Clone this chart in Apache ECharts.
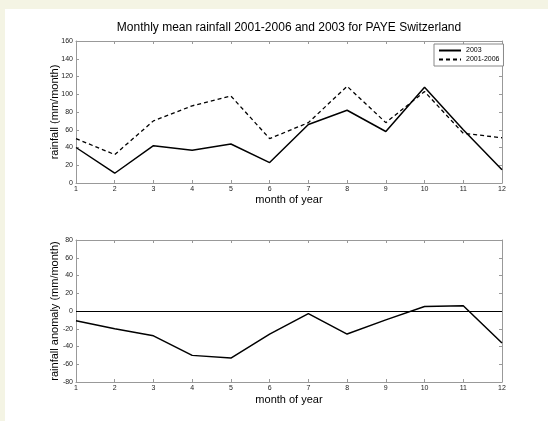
<!DOCTYPE html>
<html><head><meta charset="utf-8">
<script src="https://cdn.jsdelivr.net/npm/echarts@6/dist/echarts.min.js"></script>
<style>
html,body{margin:0;padding:0;background:#f4f4e4;width:548px;height:421px;overflow:hidden;}
#c{position:absolute;left:5px;top:9px;width:543px;height:412px;background:#fff;}
</style></head>
<body><div id="c"></div>
<script>
const months = [1,2,3,4,5,6,7,8,9,10,11,12];
const rain2003 = [40,11,42,37,44,23,66,82,58,108,60,15];
const rainMean = [50,32,70,87,98,50,68,109,68,103,56,51];
const anomaly = [-11,-20,-28,-50,-53,-26,-3,-26,-10,5,6,-36];

const OX = 5, OY = 9;
const axisCol = '#999';
const font = 'Liberation Sans, Arial, sans-serif';
function pairs(xs, ys){ return xs.map((x,i)=>[x, ys[i]]); }

function xAx(gi, show){
  return {
    type:'value', gridIndex:gi, min:1, max:12, interval:1,
    position: show ? 'bottom' : 'top',
    name: show ? 'month of year' : '', nameLocation:'middle', nameGap: gi===0 ? 11 : 12,
    nameMoveOverlap:false,
    nameTextStyle:{fontFamily:font, fontSize:11, color:'#000'},
    axisLine:{show:true, onZero:false, lineStyle:{color:axisCol, width:1}},
    axisTick:{show:true, inside:true, length:3, lineStyle:{color:axisCol}},
    axisLabel:{show:show, fontFamily:font, fontSize:7, color:'#222', margin:3},
    splitLine:{show:false}
  };
}
function yAx(gi, show, min, max, name){
  return {
    type:'value', gridIndex:gi, min:min, max:max, interval:20,
    position: show ? 'left' : 'right',
    name: show ? name : '', nameLocation:'middle', nameGap:16,
    nameMoveOverlap:false,
    nameTextStyle:{fontFamily:font, fontSize:11, color:'#000'},
    axisLine:{show:true, onZero:false, lineStyle:{color:axisCol, width:1}},
    axisTick:{show:true, inside:true, length:3, lineStyle:{color:axisCol}},
    axisLabel:{show:show, fontFamily:font, fontSize:7, color:'#222', margin:3},
    splitLine:{show:false}
  };
}

const chart = echarts.init(document.getElementById('c'), null, {renderer:'canvas'});
chart.setOption({
  animation:false,
  backgroundColor:'#fff',
  title:{text:'Monthly mean rainfall 2001-2006 and 2003 for PAYE Switzerland',
    left:289-OX, top:22-OY, textAlign:'center', padding:0,
    textStyle:{fontFamily:font, fontSize:12, fontWeight:'normal', color:'#000'}},
  legend:{
    orient:'vertical', left:434-OX, top:44-OY,
    padding:[3,4,3,4], itemGap:2, itemWidth:22, itemHeight:8,
    borderColor:'#888', borderWidth:1, borderRadius:0, backgroundColor:'#fff',
    textStyle:{fontFamily:font, fontSize:7, color:'#000'},
    itemStyle:{opacity:0, borderWidth:0},
    data:['2003','2001-2006']
  },
  grid:[
    {left:76-OX, top:41-OY, width:426, height:142},
    {left:76-OX, top:240-OY, width:426, height:142}
  ],
  xAxis:[xAx(0,true), xAx(0,false), xAx(1,true), xAx(1,false)],
  yAxis:[yAx(0,true,0,160,'rainfall (mm/month)'), yAx(0,false,0,160,''),
         yAx(1,true,-80,80,'rainfall anomaly (mm/month)'), yAx(1,false,-80,80,'')],
  series:[
    {name:'2003', type:'line', xAxisIndex:0, yAxisIndex:0, data:pairs(months, rain2003),
     showSymbol:false, symbol:'none', lineStyle:{color:'#000', width:1.5}, itemStyle:{color:'#000'}},
    {name:'2001-2006', type:'line', xAxisIndex:0, yAxisIndex:0, data:pairs(months, rainMean),
     showSymbol:false, symbol:'none', lineStyle:{color:'#000', width:1.3, type:[4,3]}, itemStyle:{color:'#000'}},
    {name:'anomaly', type:'line', xAxisIndex:2, yAxisIndex:2, data:pairs(months, anomaly),
     showSymbol:false, symbol:'none', lineStyle:{color:'#000', width:1.5}, itemStyle:{color:'#000'},
     markLine:{silent:true, symbol:'none', label:{show:false},
       lineStyle:{color:'#000', width:1.2, type:'solid'}, data:[{yAxis:0}]}}
  ]
});
</script></body></html>
